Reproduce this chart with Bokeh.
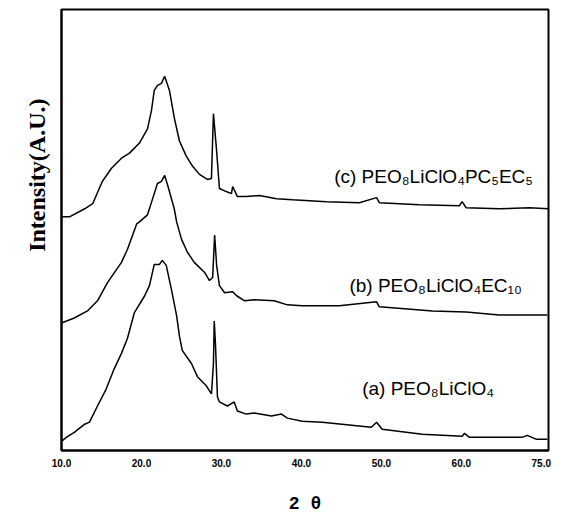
from bokeh.plotting import figure
from bokeh.models import Title, FixedTicker, Range1d
from bokeh.embed import file_html
from bokeh.resources import INLINE
from bokeh.core.properties import value

# ---- data (2-theta in degrees, intensity in arbitrary units) ----
two_theta_a = [10.0, 10.6, 11.6, 12.9, 13.5, 14.5, 15.6, 16.6, 17.5, 18.25, 19.1, 20.4, 21.0, 21.6,
               22.25, 22.6, 23.1, 23.75, 24.4, 24.75, 25.1, 26.25, 27.0, 28.1, 28.75, 29.0, 29.1,
               29.25, 29.5, 29.75, 30.75, 31.6, 32.0, 33.1, 34.1, 36.25, 37.5, 38.25, 40.1, 42.6,
               48.75, 49.4, 50.1, 55.1, 60.1, 60.4, 61.0, 67.6, 68.25, 69.4, 70.75]
intensity_a = [9, 13, 18, 26, 28, 44, 61, 81, 96, 111, 136, 153, 163, 184,
               184, 188, 183, 159, 133, 113, 99, 86, 73, 64, 56, 86, 128,
               106, 53, 48, 44, 48, 39, 36, 37, 34, 36, 32, 29, 28,
               23, 28, 21, 16, 14, 17, 13, 13, 15, 11, 11]

two_theta_b = [10.0, 11.6, 13.25, 14.5, 15.75, 17.5, 18.25, 19.4, 19.75, 20.75, 21.4, 22.0, 22.5,
               22.9, 23.25, 24.1, 24.4, 25.0, 25.75, 26.6, 27.9, 28.5, 28.9, 29.15, 29.4, 29.75,
               30.4, 31.4, 31.9, 32.9, 34.1, 36.6, 38.25, 40.1, 44.75, 49.4, 49.75, 56.4, 60.6,
               64.75, 70.75]
intensity_b = [126, 131, 138, 148, 166, 186, 199, 224, 226, 233, 249, 264, 266,
               272, 263, 239, 226, 209, 196, 186, 176, 168, 171, 213, 183, 163,
               156, 157, 153, 148, 149, 148, 144, 143, 143, 147, 142, 138, 137,
               134, 134]

two_theta_c = [10.0, 11.0, 12.9, 13.9, 15.1, 16.25, 17.5, 18.5, 19.75, 20.75, 21.25, 21.6, 22.0,
               22.5, 22.9, 23.5, 24.1, 24.75, 25.6, 26.4, 27.25, 28.25, 28.75, 29.0, 29.4, 29.75,
               30.6, 31.25, 31.4, 32.0, 33.1, 34.75, 36.9, 38.9, 43.1, 47.25, 49.4, 49.75, 54.75,
               59.75, 60.1, 60.6, 64.75, 68.5, 70.9]
intensity_c = [231, 231, 239, 244, 266, 279, 289, 294, 304, 318, 336, 356, 361,
               363, 370, 356, 329, 306, 291, 281, 273, 268, 269, 333, 296, 259,
               256, 254, 261, 251, 251, 252, 249, 248, 246, 245, 250, 245, 243,
               242, 246, 240, 239, 240, 239]

x_ticks = [10, 20, 30, 40, 50, 60, 70]
x_tick_labels = ["10.0", "20.0", "30.0", "40.0", "50.0", "60.0", "75.0"]

curve_labels = ["(a)  PEO\u2088LiClO\u2084",
                "(b)  PEO\u2088LiClO\u2084EC\u2081\u2080",
                "(c)  PEO\u2088LiClO\u2084PC\u2085EC\u2085"]
label_x = [47.6, 46.0, 44.1]
label_y = [61, 163, 271]

p = figure(width=559, height=520, output_backend="svg", toolbar_location=None,
           x_range=Range1d(10, 70.9), y_range=Range1d(0, 436),
           min_border_left=61, min_border_right=11, min_border_top=9, min_border_bottom=70)

p.background_fill_color = "white"
p.border_fill_color = "white"
p.outline_line_color = "black"
p.outline_line_width = 2
p.xgrid.visible = False
p.ygrid.visible = False

# x axis
p.xaxis.ticker = FixedTicker(ticks=x_ticks)
p.xaxis.major_label_overrides = {t: l for t, l in zip(x_ticks, x_tick_labels)}
p.xaxis.major_tick_out = 0
p.xaxis.major_tick_in = 0
p.xaxis.minor_tick_out = 0
p.xaxis.minor_tick_in = 0
p.xaxis.axis_line_color = "black"
p.xaxis.axis_line_width = 2
p.xaxis.major_label_text_font = "Liberation Sans"
p.xaxis.major_label_text_font_style = "bold"
p.xaxis.major_label_text_font_size = "10px"
p.xaxis.major_label_text_color = "black"
p.xaxis.major_label_standoff = 8
p.xaxis.axis_label = "2 \u03b8"
p.xaxis.axis_label_text_font = "Liberation Mono"
p.xaxis.axis_label_text_font_style = "bold"
p.xaxis.axis_label_text_font_size = "18px"
p.xaxis.axis_label_text_color = "black"
p.xaxis.axis_label_standoff = 24

# y axis (no tick labels)
p.yaxis.ticker = FixedTicker(ticks=[])
p.yaxis.major_tick_out = 0
p.yaxis.major_tick_in = 0
p.yaxis.minor_tick_out = 0
p.yaxis.minor_tick_in = 0
p.yaxis.major_label_text_font_size = "0px"
p.yaxis.major_label_standoff = 0
p.yaxis.axis_line_color = "black"
p.yaxis.axis_line_width = 2

p.line(two_theta_a, intensity_a, line_color="black", line_width=1.5)
p.line(two_theta_b, intensity_b, line_color="black", line_width=1.5)
p.line(two_theta_c, intensity_c, line_color="black", line_width=1.5)

p.text(x=label_x, y=label_y, text=curve_labels, text_font=value("Liberation Sans"),
       text_font_size="19px", text_baseline="middle", text_align="left", text_color="black")

ytitle = Title(text="Intensity(A.U.)", align="right", offset=89,
               text_font="Liberation Serif", text_font_style="bold", text_font_size="24px",
               text_color="black", standoff=23)
p.add_layout(ytitle, "left")

open("out.html", "w").write(file_html(p, INLINE))
